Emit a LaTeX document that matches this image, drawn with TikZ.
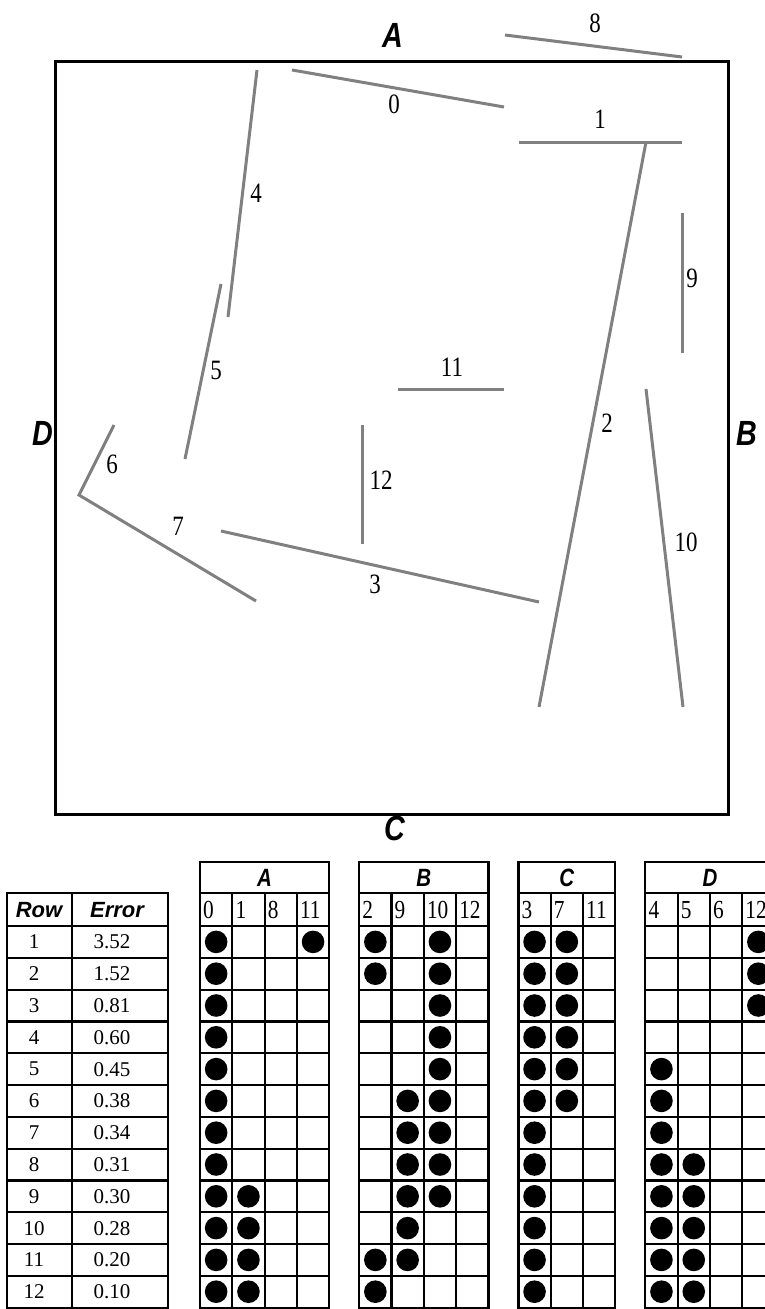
\documentclass[tikz,border=0pt]{standalone}
\usepackage{fontspec}
\setmainfont{Liberation Serif}
\newfontfamily\narrowserif{Liberation Serif}[FakeStretch=0.82]
\newfontfamily\narrowsans{Liberation Sans}[FakeStretch=0.82]
\newfontfamily\plainsans{Liberation Sans}
\usetikzlibrary{positioning}

\def\cw{32.3}
\def\rh{31.8}

\tikzset{
  seg/.style={draw=gray, line width=3pt},
  seglabel/.style={inner sep=0pt, font=\narrowserif\fontsize{28}{28}\selectfont},
  side/.style={inner sep=0pt, font=\narrowsans\bfseries\itshape\fontsize{35}{35}\selectfont},
  tabline/.style={line width=2.2pt},
  tabhead/.style={inner sep=0pt, font=\narrowsans\bfseries\itshape\fontsize{25}{25}\selectfont},
  colnum/.style={inner sep=0pt, anchor=west, font=\narrowserif\fontsize{26}{26}\selectfont},
  rowhead/.style={inner sep=0pt, font=\plainsans\bfseries\itshape\fontsize{22}{22}\selectfont},
  rowval/.style={inner sep=0pt, font=\fontsize{21}{21}\selectfont}
}

\begin{document}
\begin{tikzpicture}[x=1pt,y=-1pt]
\useasboundingbox (0,0) rectangle (765,1309);

% room and walls
\draw[line width=3pt] (55,61) rectangle (728,814);
\node[side] (sA) at (393,35) {A};
\node[side] (sB) at (747,433) {B};
\node[side] (sC) at (395,828) {C};
\node[side] (sD) at (43,433) {D};

\begin{scope}[seg]
\draw (292,70) -- (504,107);
\draw (519,142) -- (682,142);
\draw (646,142) -- (539,707);
\draw (221,531) -- (539,602);
\draw (257,70) -- (228,317);
\draw (221,284) -- (185,459);
\draw (114,425) -- (79,495) -- (256,601);
\draw (505,35) -- (682,57);
\draw (682,213) -- (682,353);
\draw (646,389) -- (683,707);
\draw (398,389) -- (504,389);
\draw (362,425) -- (362,544);
\end{scope}

\node[seglabel] (l0) at (394,104) {0};
\node[seglabel] (l1) at (600,119) {1};
\node[seglabel] (l2) at (607,423) {2};
\node[seglabel] (l3) at (375,584) {3};
\node[seglabel] (l4) at (256,193) {4};
\node[seglabel] (l5) at (216,370) {5};
\node[seglabel] (l6) at (112,464) {6};
\node[seglabel] (l7) at (178,526) {7};
\node[seglabel] (l8) at (595,23) {8};
\node[seglabel] (l9) at (692,278) {9};
\node[seglabel] (l10) at (686,542) {10};
\node[seglabel] (l11) at (452,367) {11};
\node[seglabel] (l12) at (381,480) {12};

% error table
\draw[tabline] (7,893) rectangle (168,1308.5);
\draw[tabline] (72,893) -- (72,1308.5);
\foreach \k in {0,...,11}
  \draw[tabline] (7,{926+\k*\rh}) -- (168,{926+\k*\rh});
\node[rowhead] (hrow) at (39,910) {Row};
\node[rowhead] (herr) at (117,910) {Error};
\foreach \i/\e in {1/3.52,2/1.52,3/0.81,4/0.60,5/0.45,6/0.38,7/0.34,8/0.31,9/0.30,10/0.28,11/0.20,12/0.10} {
  \node[rowval] (r\i) at (34,{942+(\i-1)*\rh}) {\i};
  \node[rowval] (e\i) at (112,{942+(\i-1)*\rh}) {\e};
}

% wall tables
\foreach \x/\n/\s in {200/4/A,359.2/4/B,518.4/3/C,645.3/4/D} {
  \draw[tabline] (\x,862) rectangle ({\x+\n*\cw},1308.5);
  \draw[tabline] (\x,893) -- ({\x+\n*\cw},893);
  \foreach \k in {0,...,11}
    \draw[tabline] (\x,{926+\k*\rh}) -- ({\x+\n*\cw},{926+\k*\rh});
  \foreach \j in {1,...,\n}
    \draw[tabline] ({\x+\j*\cw},893) -- ({\x+\j*\cw},1308.5);
  \node[tabhead] (t\s) at ({\x+\n*\cw/2},878) {\s};
}
\foreach \x/\j/\c [count=\q] in {200/0/0,200/1/1,200/2/8,200/3/11,
    359.2/0/2,359.2/1/9,359.2/2/10,359.2/3/12,
    518.4/0/3,518.4/1/7,518.4/2/11,
    645.3/0/4,645.3/1/5,645.3/2/6,645.3/3/12}
  \node[colnum] (c\q) at ({\x+\j*\cw+3},910) {\c};

% A
\foreach \r/\c in {1/0,1/3,2/0,3/0,4/0,5/0,6/0,7/0,8/0,9/0,9/1,10/0,10/1,11/0,11/1,12/0,12/1}
  \fill ({200+(\c+0.5)*\cw},{926+(\r-0.5)*\rh}) circle (11.3pt);
% B
\foreach \r/\c in {1/0,1/2,2/0,2/2,3/2,4/2,5/2,6/1,6/2,7/1,7/2,8/1,8/2,9/1,9/2,10/1,11/0,11/1,12/0}
  \fill ({359.2+(\c+0.5)*\cw},{926+(\r-0.5)*\rh}) circle (11.3pt);
% C
\foreach \r/\c in {1/0,1/1,2/0,2/1,3/0,3/1,4/0,4/1,5/0,5/1,6/0,6/1,7/0,8/0,9/0,10/0,11/0,12/0}
  \fill ({518.4+(\c+0.5)*\cw},{926+(\r-0.5)*\rh}) circle (11.3pt);
% D
\foreach \r/\c in {1/3,2/3,3/3,5/0,6/0,7/0,8/0,8/1,9/0,9/1,10/0,10/1,11/0,11/1,12/0,12/1}
  \fill ({645.3+(\c+0.5)*\cw},{926+(\r-0.5)*\rh}) circle (11.3pt);

\end{tikzpicture}
\end{document}
